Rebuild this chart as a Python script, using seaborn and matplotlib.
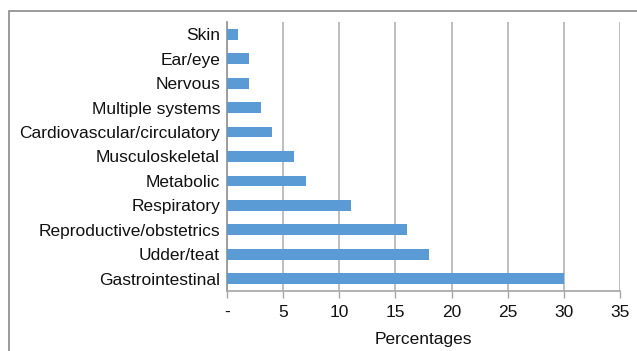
import matplotlib
matplotlib.use("Agg")
import matplotlib.pyplot as plt
from matplotlib.patches import Rectangle
import seaborn as sns
import pandas as pd

systems = ["Skin", "Ear/eye", "Nervous", "Multiple systems",
           "Cardiovascular/circulatory", "Musculoskeletal", "Metabolic",
           "Respiratory", "Reproductive/obstetrics", "Udder/teat",
           "Gastrointestinal"]
percentages = [1, 2, 2, 3, 4, 6, 7, 11, 16, 18, 30]
x_ticks = [0, 5, 10, 15, 20, 25, 30, 35]
x_tick_labels = ["-", "5", "10", "15", "20", "25", "30", "35"]

df = pd.DataFrame({"System": systems, "Percentages": percentages})

sns.set_theme(style="white")
plt.rcParams["font.family"] = ["Liberation Sans", "DejaVu Sans"]

fs = 12.5
fig = plt.figure(figsize=(6.37, 3.51), dpi=100)
ax = fig.add_axes([227 / 637, 1 - 291 / 351, (620 - 227) / 637, (291 - 22) / 351])

sns.barplot(data=df, x="Percentages", y="System", orient="h",
            color="#5B9BD5", saturation=1, width=0.44, linewidth=0,
            ax=ax, zorder=3)

ax.set_xlim(0, 35)
ax.set_ylim(10.5, -0.5)
ax.set_xticks(x_ticks)
ax.set_xticklabels(x_tick_labels, fontsize=fs, color="#111111")
ax.tick_params(axis="y", labelsize=fs, labelcolor="#111111", length=0, pad=5)
ax.tick_params(axis="x", direction="out", length=5, width=1, color="#a6a6a6",
               bottom=True, pad=5)
ax.set_xlabel("Percentages", fontsize=fs, color="#111111", labelpad=9)
ax.set_ylabel("")

ax.xaxis.grid(True, color="#b3b3b3", linewidth=1.2, zorder=0)
ax.yaxis.grid(False)
ax.set_axisbelow(True)

for side in ["top", "right"]:
    ax.spines[side].set_visible(False)
ax.spines["left"].set_color("#999999")
ax.spines["left"].set_linewidth(1.3)
ax.spines["bottom"].set_color("#a6a6a6")
ax.spines["bottom"].set_linewidth(1.2)

# Outer frame around the chart area
fig.patches.append(Rectangle((9 / 637, -0.1), 1.2, 1.1 - 11 / 351,
                             transform=fig.transFigure, fill=False,
                             edgecolor="#8a8a8a", linewidth=1.2, clip_on=False))

fig.savefig("out.png", dpi=100)
